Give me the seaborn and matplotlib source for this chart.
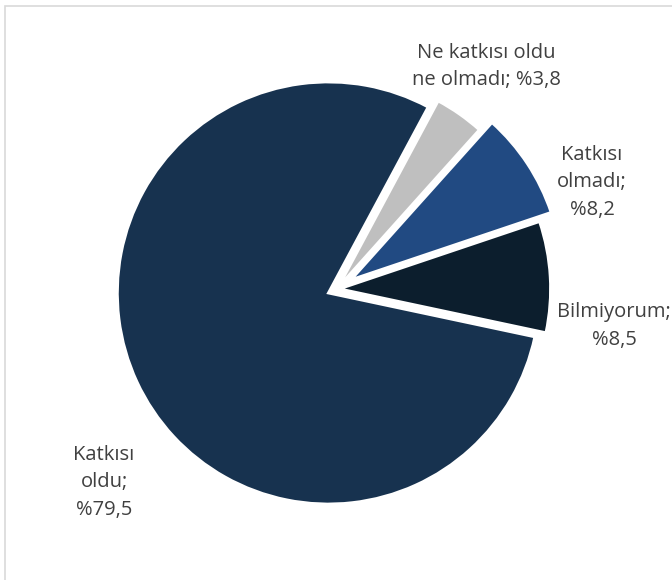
import matplotlib
matplotlib.use("Agg")
import matplotlib.pyplot as plt
import seaborn as sns
from matplotlib.patches import Rectangle

sns.set_theme(style="white")
plt.rcParams["font.family"] = ["Open Sans", "DejaVu Sans"]

# Survey answers and their shares (%)
categories = ["Katkısı oldu", "Ne katkısı oldu ne olmadı", "Katkısı olmadı", "Bilmiyorum"]
shares = [79.5, 3.8, 8.2, 8.5]
label_texts = ["Katkısı\noldu;\n%79,5", "Ne katkısı oldu\nne olmadı; %3,8",
               "Katkısı\nolmadı;\n%8,2", "Bilmiyorum;\n%8,5"]
colors = ["#17324F", "#BFBFBF", "#214A82", "#0C1E2D"]
explode = [0.045, 0.012, 0.08, 0.012]

W, H = 672, 580
cx, cy, R = 337, 289, 211  # pie centre and radius in pixels

fig = plt.figure(figsize=(W / 100, H / 100), dpi=100)
ax = fig.add_axes([0, 0, 1, 1])

ax.pie(shares, colors=colors, explode=explode, startangle=-12,
       counterclock=False, radius=1.0,
       wedgeprops=dict(edgecolor="white", linewidth=2.0))

ax.set_xlim(-cx / R, (W - cx) / R)
ax.set_ylim(-(H - cy) / R, cy / R)
ax.set_aspect("equal")
ax.axis("off")

# light chart frame
fig.patches.append(Rectangle((5 / W, -0.1), 1.2, 1 - 6 / H + 0.1,
                             transform=fig.transFigure, fill=False,
                             edgecolor="#D9D9D9", linewidth=1.2))

# label anchors: horizontal centre and last-line baseline (pixels)
label_pos = [(104, 515), (486, 85), (592, 215), (614, 345)]
for txt, (px, py) in zip(label_texts, label_pos):
    fig.text(px / W, 1 - py / H, txt, ha="center", va="baseline",
             fontsize=14.5, color="#404040", linespacing=1.5)

fig.savefig("out.png", dpi=100)
